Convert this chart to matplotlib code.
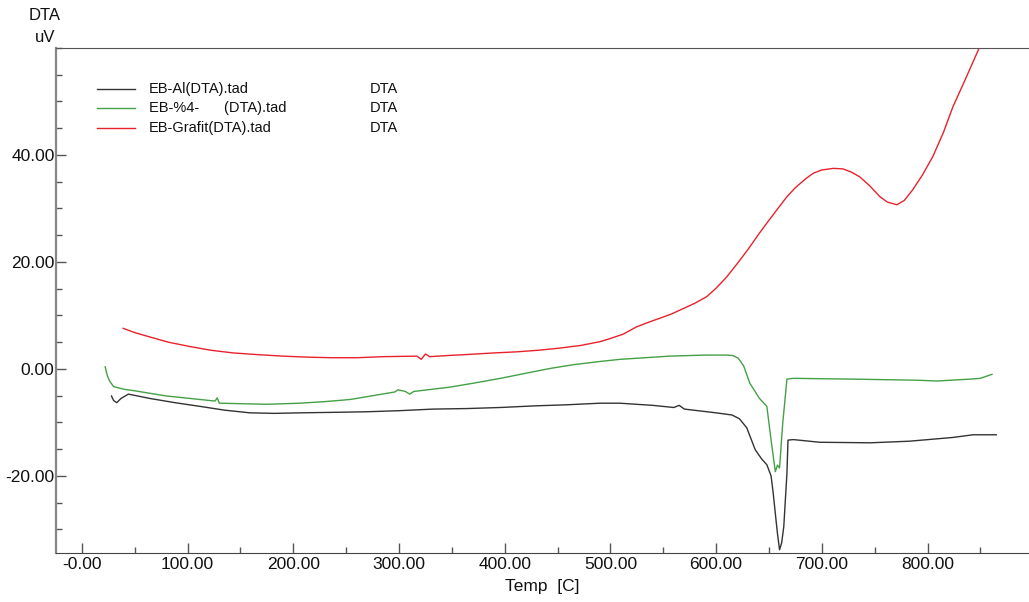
import matplotlib
matplotlib.use("Agg")
from matplotlib import pyplot as plt
from matplotlib.ticker import MultipleLocator, FixedLocator

plt.rcParams['font.family'] = ['Liberation Sans', 'DejaVu Sans']

# EB-Grafit(DTA).tad
red_t = [39, 50, 64, 82, 102, 122, 143, 165, 190, 215, 237, 260, 285, 317, 321, 325, 329,
         345, 364, 390, 411, 432, 452, 472, 490, 500, 512, 525, 537, 547, 558, 569, 580,
         591, 600, 610, 620, 630, 641, 650, 660, 667, 675, 685, 692, 700, 711, 720, 728,
         736, 745, 755, 762, 771, 778, 786, 795, 805, 815, 824, 835, 850]
red_v = [7.6, 6.8, 6.0, 5.0, 4.2, 3.5, 3.0, 2.7, 2.4, 2.2, 2.1, 2.1, 2.3, 2.4, 1.8, 2.8, 2.3,
         2.5, 2.7, 3.0, 3.2, 3.5, 3.9, 4.4, 5.1, 5.7, 6.5, 7.9, 8.8, 9.5, 10.3, 11.3, 12.3,
         13.5, 15.1, 17.2, 19.7, 22.3, 25.4, 27.8, 30.4, 32.2, 33.9, 35.6, 36.6, 37.2, 37.5,
         37.4, 36.8, 35.9, 34.3, 32.2, 31.2, 30.7, 31.5, 33.5, 36.2, 39.7, 44.2, 49.0, 53.8,
         60.5]

# EB-%4- (DTA).tad
green_t = [22, 24, 26, 30, 40, 49, 80, 126, 128, 130, 175, 206, 230, 254, 275, 296, 299,
           306, 310, 314, 348, 372, 396, 420, 443, 465, 490, 509, 556, 590, 610, 616, 621,
           626, 632, 641, 648, 652, 656, 658, 660, 663, 667, 673, 730, 790, 809, 840, 850, 861]
green_v = [0.4, -1.2, -2.2, -3.3, -3.8, -4.05, -5.05, -6.0, -5.4, -6.4, -6.6, -6.4, -6.1, -5.7,
           -5.0, -4.3, -3.9, -4.2, -4.7, -4.2, -3.4, -2.6, -1.75, -0.8, 0.1, 0.8, 1.4, 1.8, 2.4,
           2.6, 2.6, 2.5, 2.0, 0.6, -2.7, -5.5, -7.0, -13.3, -19.2, -18.0, -18.5, -10.2, -1.9,
           -1.75, -1.9, -2.1, -2.25, -1.9, -1.75, -1.0]

# EB-Al(DTA).tad
black_t = [28, 30, 33, 37, 44, 64, 88, 112, 135, 159, 182, 206, 240, 269, 300, 332, 364,
           396, 428, 458, 490, 509, 540, 560, 565, 570, 600, 615, 622, 629, 637, 643, 648,
           652, 654, 656, 658, 660, 662, 664, 667, 668, 673, 698, 746, 783, 824, 843, 865]
black_v = [-5.05, -5.9, -6.3, -5.5, -4.7, -5.5, -6.3, -7.0, -7.7, -8.2, -8.3, -8.2, -8.1,
           -8.0, -7.8, -7.5, -7.4, -7.2, -6.9, -6.7, -6.4, -6.4, -6.8, -7.2, -6.8, -7.5,
           -8.2, -8.6, -9.3, -11.0, -15.1, -16.8, -17.9, -20.0, -23.2, -27.0, -30.7, -33.8,
           -32.5, -29.5, -19.5, -13.3, -13.2, -13.7, -13.8, -13.5, -12.8, -12.3, -12.3]

series_names = ['EB-Al(DTA).tad', 'EB-%4-      (DTA).tad', 'EB-Grafit(DTA).tad']
series_colors = ['#333333', '#45a045', '#e8222c']

x_ticks = [0, 100, 200, 300, 400, 500, 600, 700, 800]
x_ticklabels = ['-0.00', '100.00', '200.00', '300.00', '400.00', '500.00', '600.00', '700.00', '800.00']
y_ticks = [-20, 0, 20, 40]
y_ticklabels = ['-20.00', '0.00', '20.00', '40.00']

fig = plt.figure(figsize=(10.29, 6.02), dpi=100)
ax = fig.add_axes([56 / 1029, 1 - 553 / 602, 1 - 56 / 1029, (553 - 48) / 602])

ax.plot(black_t, black_v, color=series_colors[0], lw=1.0)
ax.plot(green_t, green_v, color=series_colors[1], lw=1.0)
ax.plot(red_t, red_v, color=series_colors[2], lw=1.0)

ax.set_xlim(-24.5, 896)
ax.set_ylim(-34.4, 60)

ax.xaxis.set_major_locator(FixedLocator(x_ticks))
ax.set_xticklabels(x_ticklabels)
ax.xaxis.set_minor_locator(MultipleLocator(50))
ax.yaxis.set_major_locator(FixedLocator(y_ticks))
ax.set_yticklabels(y_ticklabels)
ax.yaxis.set_minor_locator(MultipleLocator(5))

ax.tick_params(which='both', direction='in', colors='#555555', labelcolor='#111111', labelsize=12.5)
ax.tick_params(which='major', length=7, width=1)
ax.tick_params(which='minor', length=4, width=1)
ax.tick_params(axis='x', pad=3)
ax.tick_params(axis='y', pad=1)

ax.spines['right'].set_visible(False)
ax.spines['left'].set_color('#888888')
ax.spines['left'].set_linewidth(1.6)
ax.spines['bottom'].set_color('#444444')
ax.spines['top'].set_color('#555555')

ax.set_xlabel('Temp  [C]', fontsize=12.5, labelpad=5, color='#111111')
fig.text(45 / 1029, 1 - 16 / 602, 'DTA', ha='center', va='center', fontsize=12, color='#111111')
fig.text(45 / 1029, 1 - 38 / 602, 'uV', ha='center', va='center', fontsize=12, color='#111111')

# legend drawn by hand: sample line, file name, signal name
row_y = [89, 108, 128]
for name, col, py in zip(series_names, series_colors, row_y):
    yf = 1 - py / 602
    fig.add_artist(plt.Line2D([97 / 1029, 135 / 1029], [yf, yf], color=col, lw=1.0))
    fig.text(149 / 1029, yf, name, ha='left', va='center', fontsize=10.5, color='#111111')
    fig.text(370 / 1029, yf, 'DTA', ha='left', va='center', fontsize=10.5, color='#111111')

fig.savefig('out.png', dpi=100)
